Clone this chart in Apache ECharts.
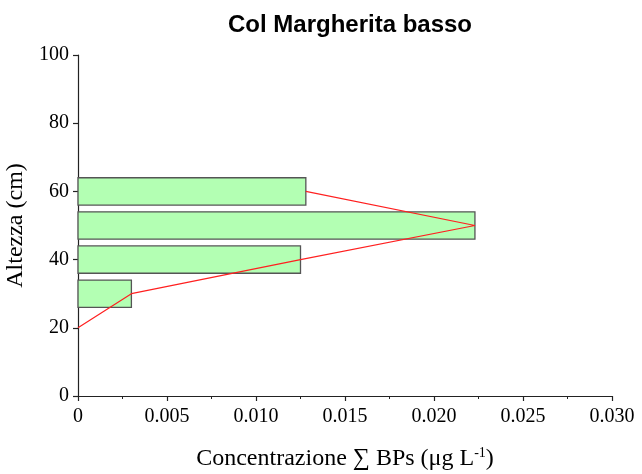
<!DOCTYPE html>
<html>
<head>
<meta charset="utf-8">
<script src="https://cdn.jsdelivr.net/npm/echarts@6/dist/echarts.min.js"></script>
<style>
  html, body { margin: 0; padding: 0; background: #fff; }
  #chart { width: 642px; height: 474px; }
</style>
</head>
<body>
<div id="chart"></div>
<script>
// Sampling heights (cm) and concentration of total BPs (µg/L)
const heights = [60, 50, 40, 30];
const concentrations = [0.0128, 0.0223, 0.0125, 0.0030];
const barHalfHeight = 4; // each layer spans ±4 cm around its height

// Profile line through the layer values, starting at the bottom (20 cm, 0)
const profileHeights = [20, 30, 40, 50, 60];
const profileValues = [0, 0.0030, 0.0125, 0.0223, 0.0128];

const xTicks = [0, 0.005, 0.010, 0.015, 0.020, 0.025, 0.030];
const yTicks = [0, 20, 40, 60, 80, 100];

const serif = '"Liberation Serif", "Times New Roman", serif';

const chart = echarts.init(document.getElementById('chart'));

const barData = heights.map((h, i) => [concentrations[i], h]);
const lineData = profileHeights.map((h, i) => [profileValues[i], h]);

chart.setOption({
  animation: false,
  title: {
    text: 'Col Margherita basso',
    left: 345,
    textAlign: 'center',
    top: 8,
    textStyle: {
      fontFamily: '"Liberation Sans", Arial, sans-serif',
      fontWeight: 'bold',
      fontSize: 24,
      color: '#000'
    }
  },
  grid: { left: 78, right: 30, top: 55, bottom: 78, containLabel: false, outerBoundsMode: 'none' },
  xAxis: {
    type: 'value',
    min: xTicks[0],
    max: xTicks[xTicks.length - 1],
    interval: 0.005,
    name: '{a|Concentrazione ∑ BPs (μg L}{s|-1}{a|)}',
    nameLocation: 'middle',
    nameGap: 50,
    nameTextStyle: {
      rich: {
        a: { fontFamily: serif, fontSize: 24, color: '#000' },
        s: { fontFamily: serif, fontSize: 14, color: '#000', verticalAlign: 'top', padding: [0, 0, 12, 0] }
      }
    },
    axisLine: { show: true, onZero: false, lineStyle: { color: '#222', width: 1.2 } },
    axisTick: { show: true, inside: false, length: 5, lineStyle: { color: '#222', width: 1.2 } },
    minorTick: { show: true, splitNumber: 2, length: 3, lineStyle: { color: '#222', width: 1 } },
    splitLine: { show: false },
    axisLabel: {
      fontFamily: serif,
      fontSize: 20,
      color: '#000',
      margin: 11,
      formatter: v => (v === 0 ? '0' : v.toFixed(3))
    }
  },
  yAxis: {
    type: 'value',
    min: yTicks[0],
    max: yTicks[yTicks.length - 1],
    interval: 20,
    name: 'Altezza (cm)',
    nameLocation: 'middle',
    nameGap: 46,
    nameTextStyle: { fontFamily: serif, fontSize: 24, color: '#000' },
    axisLine: { show: true, onZero: false, lineStyle: { color: '#222', width: 1.2 } },
    axisTick: { show: true, inside: false, length: 5, lineStyle: { color: '#222', width: 1.2 } },
    splitLine: { show: false },
    axisLabel: { fontFamily: serif, fontSize: 20, color: '#000', margin: 9 }
  },
  series: [
    {
      type: 'custom',
      data: barData,
      encode: { x: 0, y: 1 },
      renderItem: function (params, api) {
        const v = api.value(0);
        const h = api.value(1);
        const p0 = api.coord([0, h + barHalfHeight]);
        const p1 = api.coord([v, h - barHalfHeight]);
        return {
          type: 'rect',
          shape: { x: p0[0], y: p0[1], width: p1[0] - p0[0], height: p1[1] - p0[1] },
          style: { fill: '#b3ffb3', stroke: '#555', lineWidth: 1.3 }
        };
      },
      z: 2
    },
    {
      type: 'line',
      data: lineData,
      symbol: 'none',
      lineStyle: { color: '#ff2020', width: 1.2 },
      z: 3
    }
  ]
});
</script>
</body>
</html>
